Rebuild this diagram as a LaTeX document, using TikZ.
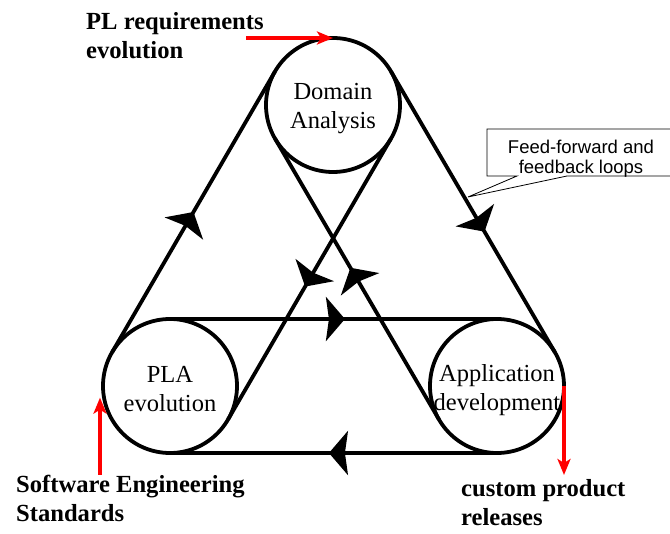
\documentclass[tikz,border=0pt]{standalone}
\usepackage{fontspec}
\setmainfont{Liberation Serif}
\newfontfamily\calloutfont{Liberation Sans}
\usetikzlibrary{arrows.meta,calc,decorations.markings}

\tikzset{
  loopcirc/.style={draw,circle,line width=3.8pt,minimum size=134pt,inner sep=0pt,outer sep=0pt},
  circtext/.style={align=center,font=\fontsize{24.5}{29}\selectfont,inner sep=0pt},
  lbl/.style={align=left,font=\fontsize{24.6}{29}\selectfont\bfseries,inner sep=0pt,anchor=north west},
  belt/.style={line width=3.8pt,decoration={markings,
      mark=at position #1 with {\arrow{Stealth[length=19pt,width=44pt,inset=3pt]}}},
    postaction={decorate}},
  feed/.style={red,line width=4pt,-{Stealth[length=16pt,width=13pt,inset=4pt]}},
  ffbox/.style={minimum width=188pt,minimum height=47pt,inner sep=0pt,outer sep=0pt},
}

\begin{document}
\begin{tikzpicture}[x=1pt,y=-1pt]
\useasboundingbox (0,0) rectangle (670,534);

% the three phases
\node[loopcirc,label={[circtext,yshift=-4pt]center:Domain\\Analysis}] (dom) at (333,105) {};
\node[loopcirc,label={[circtext,yshift=-3pt]center:PLA\\evolution}] (pla) at (170,386) {};
\node[loopcirc,label={[circtext,yshift=-4pt]center:Application\\development}] (app) at (497,386) {};

% feed-forward and feedback loops
\draw[belt=0.5] (pla.150) -- (dom.150);
\draw[belt=0.57] (dom.30) -- (app.30);
\draw[belt=0.527] (dom.-30) -- (pla.-30);
\draw[belt=0.54] (app.210) -- (dom.210);
\draw[belt=0.535] (pla.north) -- (app.north);
\draw[belt=0.514] (app.south) -- (pla.south);

% inputs and outputs
\node[lbl] (req) at (86,12.4) {PL requirements\\evolution};
\node[lbl] (std) at (16,475) {Software Engineering\\Standards};
\node[lbl] (rel) at (461,479) {custom product\\releases};
\coordinate (reqin) at (246,38);
\coordinate (stdin) at (100,475);
\coordinate (relout) at (564,475);
\draw[feed] (reqin) -- (dom.north);
\draw[feed] (stdin) -- (stdin |- pla.190);
\draw[feed] (app.east) -- (relout);

% callout
\node[ffbox] (ffb) at (581,152.5) {};
\coordinate (ffbtip) at (468,197);
\draw[line width=0.8pt] ($(ffb.south west)+(30,0)$) -- (ffb.south west) -- (ffb.north west)
  -- (ffb.north east) -- (ffb.south east) -- ($(ffb.south west)+(80,0)$) -- (ffbtip) -- cycle;
\node[align=center,inner sep=0pt,font=\calloutfont\fontsize{18.5}{20}\selectfont] (ffbtext)
  at (581,159) {Feed-forward and\\feedback loops};
\end{tikzpicture}
\end{document}
